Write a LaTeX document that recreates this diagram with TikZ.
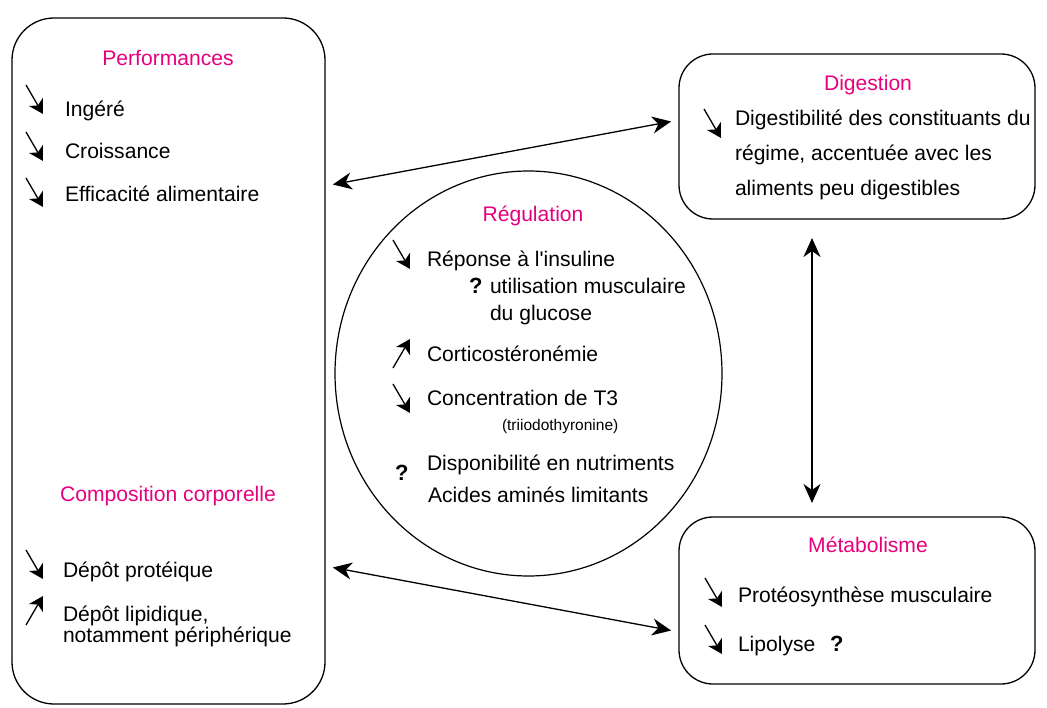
\documentclass[tikz,border=0pt]{standalone}
\usepackage{fontspec}
\setmainfont{Liberation Sans}[Ligatures=TeXOff]
\usetikzlibrary{arrows.meta,shapes.geometric}
\definecolor{mag}{RGB}{229,0,125}
\begin{document}
\begin{tikzpicture}[x=1pt,y=-1pt,
  every node/.style={font=\fontsize{21.1}{25}\selectfont, inner sep=0pt, outer sep=0pt},
  box/.style={draw, line width=1.3pt, minimum width=#1},
  title/.style={anchor=base, text=mag},
  txt/.style={anchor=base west},
  small/.style={anchor=base west, font=\fontsize{15.5}{18}\selectfont},
  qm/.style={anchor=base west, font=\fontsize{22}{25}\selectfont\bfseries},
  conn/.style={{Stealth[length=19pt,width=17pt,inset=6pt]}-{Stealth[length=19pt,width=17pt,inset=6pt]}, line width=1.3pt},
  sline/.style={line width=1.3pt},
  dn/.pic={\draw[sline] (0,0) -- (11.9,20.4);
           \fill (17,29) -- (3.0,21.0) -- (11.9,20.4) -- (16.8,12.9) -- cycle;},
  upa/.pic={\draw[sline] (0,29) -- (11.9,8.6);
            \fill (17,0) -- (3.0,8.0) -- (11.9,8.6) -- (16.8,16.1) -- cycle;}
]
\useasboundingbox (0,0) rectangle (1047,708);

% boxes
\node[box=313pt, minimum height=686pt, rounded corners=42pt] (perf) at (168.5,361) {};
\node[box=356pt, minimum height=165pt, rounded corners=34pt] (dig) at (857,136.5) {};
\node[box=356pt, minimum height=167pt, rounded corners=34pt] (met) at (857,600.5) {};
\node[draw, line width=1.2pt, ellipse, minimum width=387pt, minimum height=405pt] (reg) at (528.5,373.5) {};

% connectors
\draw[conn, shorten <=8pt, shorten >=8pt] ([yshift=175pt]perf.east) -- ([yshift=16.5pt]dig.west);
\draw[conn, shorten <=8pt, shorten >=8pt] ([yshift=-205pt]perf.east) -- ([yshift=-31.5pt]met.west);
\draw[conn, line width=1.6pt, shorten <=19pt, shorten >=14pt] ([xshift=-45pt]dig.south) -- ([xshift=-45pt]met.north);

% Performances
\node[title] (tperf) at (168,66) {Performances};
\pic at (26,85) {dn};
\node[txt] (p1) at (65,117) {Ingéré};
\pic at (26,132) {dn};
\node[txt] (p2) at (65,159) {Croissance};
\pic at (26,178) {dn};
\node[txt] (p3) at (65,202) {Efficacité alimentaire};

% Composition corporelle
\node[title] (tcomp) at (168,501) {Composition corporelle};
\pic at (26,550) {dn};
\node[txt] (c1) at (63,577) {Dépôt protéique};
\pic at (26,596) {upa};
\node[txt] (c2) at (63,621) {Dépôt lipidique,};
\node[txt] (c3) at (63,642) {notamment périphérique};

% Regulation
\node[title] (treg) at (533,222) {Régulation};
\pic at (393,240) {dn};
\node[txt] (r1) at (427,267) {Réponse à l'insuline};
\node[qm] (rq1) at (469,294) {?};
\node[txt] (r2) at (490,294) {utilisation musculaire};
\node[txt] (r3) at (490,321) {du glucose};
\pic at (393,339) {upa};
\node[txt] (r4) at (427,362) {Corticostéronémie};
\pic at (393,384) {dn};
\node[txt] (r5) at (427,406) {Concentration de T3};
\node[small] (r6) at (502,431) {(triiodothyronine)};
\node[qm] (rq2) at (395,480) {?};
\node[txt] (r7) at (427,471) {Disponibilité en nutriments};
\node[txt] (r8) at (428,502) {Acides aminés limitants};

% Digestion
\node[title] (tdig) at (868,91) {Digestion};
\pic at (704,109) {dn};
\node[txt] (d1) at (735,126) {Digestibilité des constituants du};
\node[txt] (d2) at (735,161) {régime, accentuée avec les};
\node[txt] (d3) at (735,196) {aliments peu digestibles};

% Metabolisme
\node[title] (tmet) at (868,552) {Métabolisme};
\pic at (705,578) {dn};
\node[txt] (m1) at (738,602) {Protéosynthèse musculaire};
\pic at (705,625) {dn};
\node[txt] (m2) at (738,651) {Lipolyse};
\node[qm] (mq) at (830,651) {?};
\end{tikzpicture}
\end{document}
